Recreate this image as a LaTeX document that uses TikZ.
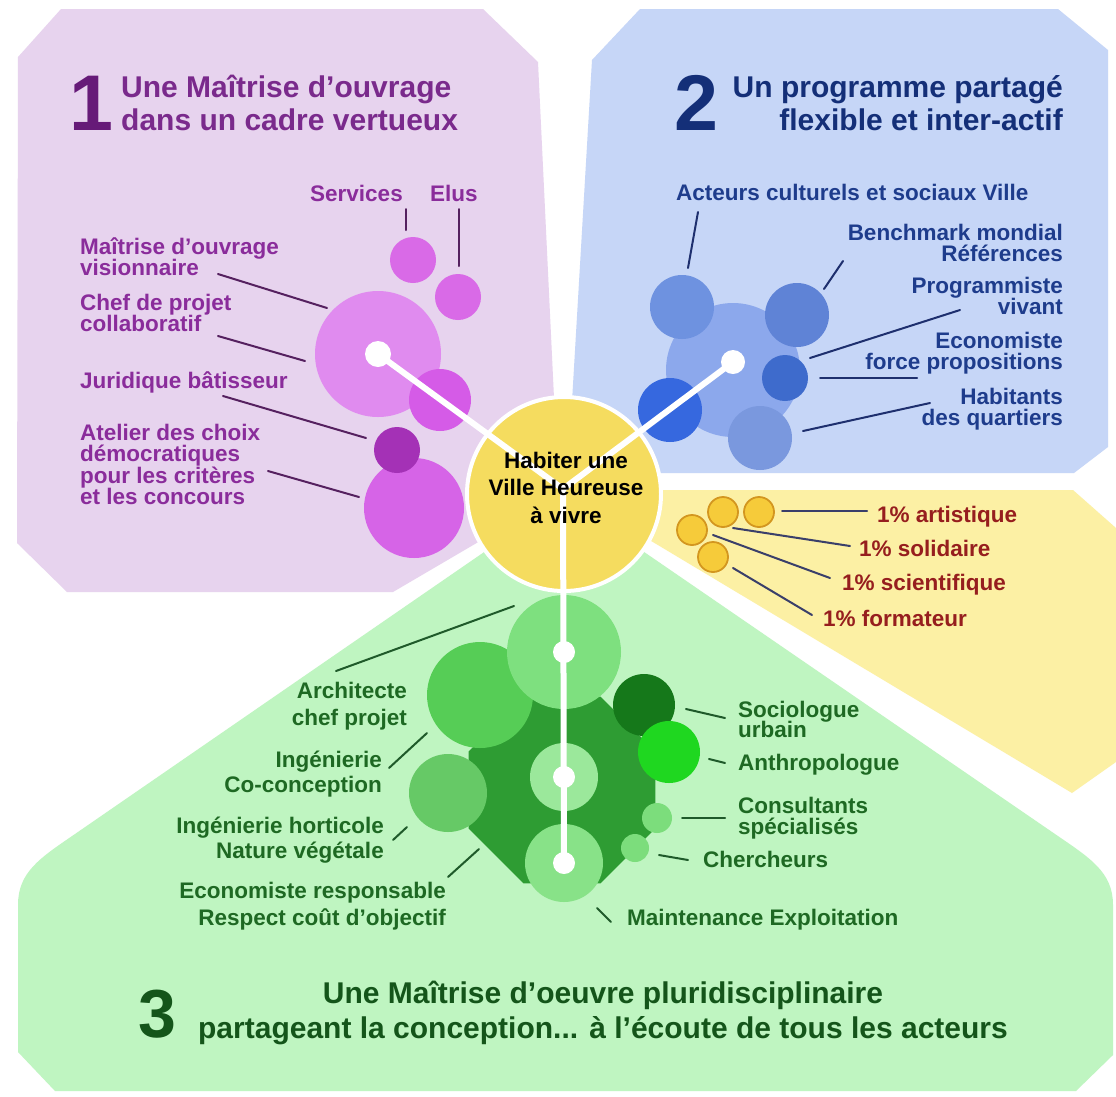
\documentclass[tikz,border=0pt]{standalone}
\usepackage{fontspec}
\setmainfont{Liberation Sans}
\usetikzlibrary{shapes.geometric}
% stacked lines whose baseline is that of the first line
\newcommand\Lstack[1]{\vtop{\lineskiplimit=-40pt\relax\halign{##\hfil\cr #1\crcr}}}
\newcommand\Rstack[1]{\vtop{\lineskiplimit=-40pt\relax\halign{\hfil##\cr #1\crcr}}}
\newcommand\Cstack[1]{\vtop{\lineskiplimit=-40pt\relax\halign{\hfil##\hfil\cr #1\crcr}}}

\definecolor{purplebg}{HTML}{E7D3EE}
\definecolor{bluebg}{HTML}{C6D6F7}
\definecolor{yellowbg}{HTML}{FCF0A4}
\definecolor{greenbg}{HTML}{BFF5C1}
\definecolor{hubfill}{HTML}{F5DC5F}
\definecolor{ptext}{HTML}{8A2C9B}
\definecolor{ptitle}{HTML}{7A2A8C}
\definecolor{pnum}{HTML}{661A78}
\definecolor{pline}{HTML}{55205F}
\definecolor{btext}{HTML}{1E3C8C}
\definecolor{bnum}{HTML}{142F78}
\definecolor{bline}{HTML}{1E2F6E}
\definecolor{ytext}{HTML}{961E1E}
\definecolor{yline}{HTML}{3A3F6A}
\definecolor{gtext}{HTML}{1E6923}
\definecolor{gnum}{HTML}{14551A}
\definecolor{gline}{HTML}{1F5A2A}
% cluster colours
\definecolor{pA}{HTML}{D96AE7}
\definecolor{pB}{HTML}{E08BEF}
\definecolor{pC}{HTML}{D55BE7}
\definecolor{pD}{HTML}{A431B6}
\definecolor{pE}{HTML}{D664E7}
\definecolor{bA}{HTML}{8CA8EC}
\definecolor{bB}{HTML}{6E92E0}
\definecolor{bC}{HTML}{5F83D6}
\definecolor{bD}{HTML}{3E6BCC}
\definecolor{bE}{HTML}{3668DF}
\definecolor{bF}{HTML}{7A98DE}
\definecolor{gcoreC}{HTML}{2E9C33}
\definecolor{gA}{HTML}{7EE07F}
\definecolor{gB}{HTML}{56CD56}
\definecolor{gC}{HTML}{66C966}
\definecolor{gD}{HTML}{9BE89B}
\definecolor{gE}{HTML}{88E288}
\definecolor{gF}{HTML}{15781A}
\definecolor{gG}{HTML}{1FD720}
\definecolor{gH}{HTML}{7CDD7C}
\definecolor{coin}{HTML}{F6CB3A}
\definecolor{coinrim}{HTML}{D3961F}

\begin{document}
\begin{tikzpicture}[x=1pt,y=-1pt,
  lbl/.style={inner sep=0pt, font=\fontsize{22.5}{#1}\selectfont\bfseries},
  lbl/.default=21.6,
  ttl/.style={inner sep=0pt, font=\fontsize{30}{#1}\selectfont\bfseries},
  ttl/.default=33,
  bignum/.style={inner sep=0pt, font=\fontsize{#1}{#1}\selectfont\bfseries},
  blob/.style={circle, inner sep=0pt, minimum size=#1},
  hubdot/.style={circle, inner sep=0pt, fill=white, minimum size=#1},
  leader/.style={line width=2pt, line cap=round},
  spoke/.style={white, line width=6pt, line cap=round},
  coinc/.style={circle, inner sep=0pt, minimum size=30pt, fill=coin, draw=coinrim, line width=1.8pt}]

\useasboundingbox (0,0) rectangle (1116,1096);
\fill[white] (0,0) rectangle (1116,1096);

% ---------- the four sectors ----------
\fill[purplebg] (18,57) -- (61,9) -- (483,9) -- (538,62) -- (556,440) -- (562,493)
  -- (393,592) -- (67,592) -- (17,543) -- cycle;
\fill[bluebg] (592,60) -- (640,9) -- (1058,9) -- (1108,50) -- (1108,447)
  -- (1074,473) -- (620,473) -- (568,470) -- cycle;
\fill[yellowbg] (566,490) -- (1073,490) -- (1116,528) -- (1116,762) -- (1072,793) -- cycle;
\fill[greenbg] (564,497) -- (1055,834) .. controls (1090,858) and (1113,872) .. (1113,905)
  -- (1113,1055) -- (1076,1091) -- (55,1091) -- (18,1052) -- (18,905)
  .. controls (18,872) and (40,858) .. (75,834) -- cycle;

% ---------- leader line end points ----------
\coordinate (lServA) at (406,209);  \coordinate (lServB) at (406,230);
\coordinate (lElusA) at (459,209);  \coordinate (lElusB) at (459,266);
\coordinate (lVisA) at (218,274);   \coordinate (lVisB) at (327,308);
\coordinate (lColA) at (218,336);   \coordinate (lColB) at (305,361);
\coordinate (lJurA) at (223,396);   \coordinate (lJurB) at (366,438);
\coordinate (lAteA) at (268,471);   \coordinate (lAteB) at (359,497);

\coordinate (lActA) at (698,212);   \coordinate (lActB) at (688,268);
\coordinate (lBenA) at (843,261);   \coordinate (lBenB) at (824,289);
\coordinate (lProA) at (960,310);   \coordinate (lProB) at (810,358);
\coordinate (lEcoA) at (917,378);   \coordinate (lEcoB) at (820,378);
\coordinate (lHabA) at (930,403);   \coordinate (lHabB) at (803,431);

\coordinate (lArtA) at (867,511);   \coordinate (lArtB) at (782,511);
\coordinate (lSolA) at (850,546);   \coordinate (lSolB) at (733,528);
\coordinate (lSciA) at (830,578);   \coordinate (lSciB) at (713,535);
\coordinate (lForA) at (812,615);   \coordinate (lForB) at (733,568);

\coordinate (lArcA) at (336,671);   \coordinate (lArcB) at (514,606);
\coordinate (lIngA) at (389,768);   \coordinate (lIngB) at (427,733);
\coordinate (lHorA) at (393,840);   \coordinate (lHorB) at (407,827);
\coordinate (lRspA) at (448,877);   \coordinate (lRspB) at (479,849);
\coordinate (lMntA) at (611,922);   \coordinate (lMntB) at (597,908);
\coordinate (lSocA) at (725,718);   \coordinate (lSocB) at (686,709);
\coordinate (lAntA) at (725,763);   \coordinate (lAntB) at (709,759);
\coordinate (lConA) at (725,818);   \coordinate (lConB) at (682,818);
\coordinate (lChrA) at (688,860);   \coordinate (lChrB) at (659,855);

\draw[leader, pline] (lServA) -- (lServB);
\draw[leader, pline] (lElusA) -- (lElusB);
\draw[leader, pline] (lVisA) -- (lVisB);
\draw[leader, pline] (lColA) -- (lColB);
\draw[leader, pline] (lJurA) -- (lJurB);
\draw[leader, pline] (lAteA) -- (lAteB);
\draw[leader, bline] (lActA) -- (lActB);
\draw[leader, bline] (lBenA) -- (lBenB);
\draw[leader, bline] (lProA) -- (lProB);
\draw[leader, bline] (lEcoA) -- (lEcoB);
\draw[leader, bline] (lHabA) -- (lHabB);
\draw[leader, yline] (lArtA) -- (lArtB);
\draw[leader, yline] (lSolA) -- (lSolB);
\draw[leader, yline] (lSciA) -- (lSciB);
\draw[leader, yline] (lForA) -- (lForB);
\draw[leader, gline] (lArcA) -- (lArcB);
\draw[leader, gline] (lIngA) -- (lIngB);
\draw[leader, gline] (lHorA) -- (lHorB);
\draw[leader, gline] (lRspA) -- (lRspB);
\draw[leader, gline] (lMntA) -- (lMntB);
\draw[leader, gline] (lSocA) -- (lSocB);
\draw[leader, gline] (lAntA) -- (lAntB);
\draw[leader, gline] (lConA) -- (lConB);
\draw[leader, gline] (lChrA) -- (lChrB);

% ---------- purple cluster ----------
\node[blob=46pt, fill=pA] (pServ) at (413,260) {};
\node[blob=46pt, fill=pA] (pElus) at (458,297) {};
\node[blob=126pt, fill=pB] (pMain) at (378,354) {};
\node[blob=62pt, fill=pC] (pJur) at (440,400) {};
\node[blob=100pt, fill=pE] (pAte) at (414,508) {};
\node[blob=46pt, fill=pD] (pDem) at (397,450) {};

% ---------- blue cluster ----------
\node[blob=134pt, fill=bA] (bMain) at (733,370) {};
\node[blob=64pt, fill=bB] (bAct) at (682,307) {};
\node[blob=64pt, fill=bC] (bBen) at (797,315) {};
\node[blob=46pt, fill=bD] (bEco) at (785,378) {};
\node[blob=64pt, fill=bE] (bLeft) at (670,410) {};
\node[blob=64pt, fill=bF] (bHab) at (760,438) {};

% ---------- yellow coins ----------
\node[coinc] (cA) at (723,512) {};
\node[coinc] (cB) at (759,512) {};
\node[coinc] (cC) at (692,530) {};
\node[coinc] (cD) at (713,557) {};

% ---------- green cluster ----------
\node[regular polygon, regular polygon sides=8, minimum size=202pt, inner sep=0pt,
      fill=gcoreC] (gCore) at (562,790) {};
\node[blob=106pt, fill=gB] (gArc) at (480,695) {};
\node[blob=114pt, fill=gA] (gTop) at (564,652) {};
\node[blob=78pt, fill=gC] (gHor) at (448,793) {};
\node[blob=68pt, fill=gD] (gMid) at (564,777) {};
\node[blob=78pt, fill=gE] (gBot) at (564,863) {};
\node[blob=62pt, fill=gF] (gSoc) at (644,705) {};
\node[blob=62pt, fill=gG] (gAnt) at (669,752) {};
\node[blob=30pt, fill=gH] (gCon) at (657,818) {};
\node[blob=28pt, fill=gH] (gChr) at (635,848) {};

% ---------- centre ----------
\node[blob=194pt, fill=hubfill, draw=white, line width=4pt] (hub) at (564,494) {};
\coordinate (hubC) at (563,489);

\node[hubdot=26pt] (pDot) at (378,354) {};
\node[hubdot=24pt] (bDot) at (733,362) {};
\node[hubdot=22pt] (gDotA) at (564,652) {};
\node[hubdot=22pt] (gDotB) at (564,777) {};
\node[hubdot=22pt] (gDotC) at (564,863) {};
\draw[spoke] (pDot.center) -- (hubC);
\draw[spoke] (bDot.center) -- (hubC);
\draw[spoke] (hubC) -- (gDotC.center);

\node[lbl=27.5, anchor=base, text=black] (hubText) at (566,468)
  {\Cstack{Habiter une\cr Ville Heureuse\cr à vivre}};

% ---------- sector 1 texts ----------
\node[bignum=79, anchor=base west, text=pnum] (n1) at (69,130) {1};
\node[ttl, anchor=base west, text=ptitle] (t1) at (121,97)
  {\Lstack{Une Maîtrise d’ouvrage\cr dans un cadre vertueux}};
\node[lbl, anchor=base west, text=ptext] (xServ) at (310,201) {Services};
\node[lbl, anchor=base west, text=ptext] (xElus) at (430,201) {Elus};
\node[lbl, anchor=base west, text=ptext] (xVis) at (80,254)
  {\Lstack{Maîtrise d’ouvrage\cr visionnaire}};
\node[lbl, anchor=base west, text=ptext] (xCol) at (80,310)
  {\Lstack{Chef de projet\cr collaboratif}};
\node[lbl, anchor=base west, text=ptext] (xJur) at (80,388) {Juridique bâtisseur};
\node[lbl, anchor=base west, text=ptext] (xAte) at (80,440)
  {\Lstack{Atelier des choix\cr démocratiques\cr pour les critères\cr et les concours}};

% ---------- sector 2 texts ----------
\node[bignum=79, anchor=base west, text=bnum] (n2) at (674,130) {2};
\node[ttl, anchor=base east, text=bnum] (t2) at (1063,97)
  {\Rstack{Un programme partagé\cr flexible et inter-actif}};
\node[lbl, anchor=base west, text=btext] (xAct) at (676,200) {Acteurs culturels et sociaux Ville};
\node[lbl=21.5, anchor=base east, text=btext] (xBen) at (1063,240)
  {\Rstack{Benchmark mondial\cr Références}};
\node[lbl=21.5, anchor=base east, text=btext] (xPro) at (1063,293)
  {\Rstack{Programmiste\cr vivant}};
\node[lbl=21.5, anchor=base east, text=btext] (xEco) at (1063,348)
  {\Rstack{Economiste\cr force propositions}};
\node[lbl=21.5, anchor=base east, text=btext] (xHab) at (1063,404)
  {\Rstack{Habitants\cr des quartiers}};

% ---------- one-percent texts ----------
\node[lbl, anchor=base west, text=ytext] (xArt) at (877,522) {1\% artistique};
\node[lbl, anchor=base west, text=ytext] (xSol) at (859,556) {1\% solidaire};
\node[lbl, anchor=base west, text=ytext] (xSci) at (842,590) {1\% scientifique};
\node[lbl, anchor=base west, text=ytext] (xFor) at (823,626) {1\% formateur};

% ---------- sector 3 texts ----------
\node[lbl=27, anchor=base east, text=gtext] (xArc) at (407,698)
  {\Rstack{Architecte\cr chef projet}};
\node[lbl=25, anchor=base east, text=gtext] (xIng) at (382,767)
  {\Rstack{Ingénierie\cr Co-conception}};
\node[lbl=25, anchor=base east, text=gtext] (xHor) at (384,833)
  {\Rstack{Ingénierie horticole\cr Nature végétale}};
\node[lbl=27, anchor=base east, text=gtext] (xRsp) at (446,898)
  {\Rstack{Economiste responsable\cr Respect coût d’objectif}};
\node[lbl=20.5, anchor=base west, text=gtext] (xSoc) at (738,717)
  {\Lstack{Sociologue\cr urbain}};
\node[lbl, anchor=base west, text=gtext] (xAnt) at (738,770) {Anthropologue};
\node[lbl=21, anchor=base west, text=gtext] (xCon) at (738,813)
  {\Lstack{Consultants\cr spécialisés}};
\node[lbl, anchor=base west, text=gtext] (xChr) at (703,867) {Chercheurs};
\node[lbl, anchor=base west, text=gtext] (xMnt) at (627,925) {Maintenance Exploitation};

\node[bignum=68, anchor=base west, text=gnum] (n3) at (138,1037) {3};
\node[ttl=35, anchor=base, text=gnum] (t3) at (603,1003)
  {\Cstack{Une Maîtrise d’oeuvre pluridisciplinaire\cr
   partageant la conception... à l’écoute de tous les acteurs}};
\end{tikzpicture}
\end{document}
